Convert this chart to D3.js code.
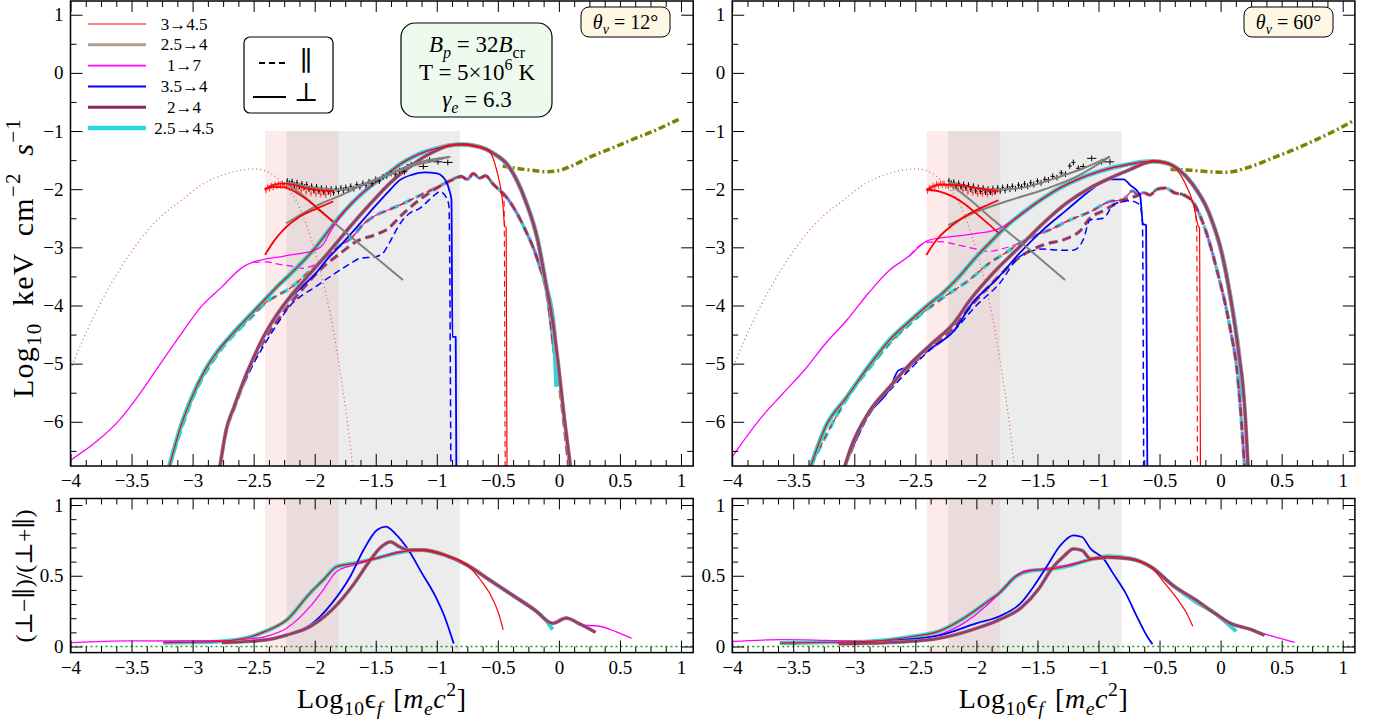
<!DOCTYPE html>
<html>
<head>
<meta charset="utf-8">
<script src="https://cdn.jsdelivr.net/npm/d3@7"></script>
<style>
  body { margin: 0; background: #fff; }
  svg text { font-family: "Liberation Serif", "DejaVu Serif", serif; fill: #000; }
</style>
</head>
<body>
<script>
// ---------------- data (x = log10 eps_f [me c^2]) ----------------
const xTicks = [-4, -3.5, -3, -2.5, -2, -1.5, -1, -0.5, 0, 0.5, 1];
const ySpecTicks = [-6, -5, -4, -3, -2, -1, 0, 1];
const yPolTicks = [0, 0.5, 1];
const energyBands = [[-2.407, -1.805], [-2.231, -0.81]]; // 2-8 keV, 3-79 keV
const legendLabels = ["3\u21924.5", "2.5\u21924", "1\u21927", "3.5\u21924", "2\u21924", "2.5\u21924.5"];
const viewAngles = ["12\u00b0", "60\u00b0"];

// seed photon (dotted) curve, same in both panels
const seedCurve = [[-4.0,-5.1],[-3.9,-4.6],[-3.77,-4.02],[-3.6,-3.39],[-3.43,-2.87],[-3.26,-2.47],[-3.09,-2.19],[-2.93,-1.93],[-2.76,-1.76],[-2.59,-1.67],[-2.49,-1.65],[-2.36,-1.73],[-2.24,-1.95],[-2.15,-2.2],[-2.07,-2.6],[-2.0,-3.05],[-1.92,-3.7],[-1.85,-4.4],[-1.78,-5.3],[-1.72,-6.2],[-1.69,-6.76]];

// ---- theta_v = 12 deg, spectra (log10 keV cm^-2 s^-1) ----
const s12CyanPerp = [[-3.19,-6.76],[-3.1,-6.1],[-3.0,-5.55],[-2.9,-5.12],[-2.8,-4.8],[-2.7,-4.55],[-2.6,-4.32],[-2.5,-4.1],[-2.4,-3.88],[-2.3,-3.66],[-2.2,-3.46],[-2.1,-3.25],[-2.0,-3.02],[-1.9,-2.75],[-1.8,-2.48],[-1.7,-2.25],[-1.6,-2.05],[-1.5,-1.88],[-1.4,-1.73],[-1.3,-1.57],[-1.2,-1.45],[-1.1,-1.36],[-1.0,-1.3],[-0.9,-1.25],[-0.8,-1.23],[-0.7,-1.25],[-0.6,-1.31],[-0.54,-1.38],[-0.41,-1.61],[-0.275,-2.19],[-0.174,-2.87],[-0.107,-3.62],[-0.04,-4.42],[-0.02,-5.4]];
const s12CyanPar = [[-3.19,-6.76],[-3.0,-5.6],[-2.8,-4.85],[-2.6,-4.37],[-2.5,-4.16],[-2.4,-3.95],[-2.3,-3.82],[-2.2,-3.7],[-2.1,-3.52],[-2.0,-3.33],[-1.9,-3.15],[-1.8,-2.98],[-1.7,-2.84],[-1.6,-2.6],[-1.5,-2.45],[-1.4,-2.36],[-1.3,-2.27],[-1.2,-2.17],[-1.1,-2.07],[-1.0,-1.97],[-0.9,-1.86],[-0.8,-1.78],[-0.75,-1.83],[-0.7,-1.73],[-0.65,-1.81],[-0.6,-1.77],[-0.544,-1.9],[-0.41,-2.19],[-0.275,-2.7],[-0.174,-3.22],[-0.09,-3.9],[-0.04,-4.77],[-0.02,-5.1]];
const s12RedPerpTail = [[-0.577,-1.33],[-0.51,-1.67],[-0.46,-2.24],[-0.443,-2.64],[-0.432,-2.66],[-0.425,-6.76]];
const s12RedParTail = [[-0.544,-1.9],[-0.48,-2.05],[-0.45,-2.15],[-0.44,-6.76]];
const s12MagPerpHead = [[-4.0,-6.66],[-3.77,-6.31],[-3.6,-5.97],[-3.43,-5.51],[-3.26,-4.99],[-3.09,-4.48],[-2.93,-4.02],[-2.76,-3.68],[-2.59,-3.34],[-2.5,-3.25],[-2.4,-3.2],[-2.3,-3.17],[-2.2,-3.13],[-2.1,-3.1],[-2.0,-3.05],[-1.93,-2.95],[-1.87,-2.72],[-1.8,-2.5]];
const s12MagParHead = [[-2.5,-3.26],[-2.4,-3.25],[-2.3,-3.29],[-2.2,-3.32],[-2.1,-3.36],[-2.0,-3.3],[-1.9,-3.16]];
const s12PerpTail = [[0.0,-5.1],[0.045,-5.95],[0.094,-6.76]];
const s12ParTail = [[0.0,-5.3],[0.04,-6.0],[0.08,-6.76]];
const s12PurplePerpHead = [[-2.775,-6.76],[-2.725,-6.14],[-2.66,-5.74],[-2.59,-5.34],[-2.51,-4.94],[-2.42,-4.54],[-2.32,-4.19],[-2.22,-3.9],[-2.1,-3.6],[-2.0,-3.36],[-1.9,-3.12],[-1.8,-2.87],[-1.7,-2.62],[-1.6,-2.38],[-1.5,-2.15],[-1.4,-1.93],[-1.3,-1.74],[-1.2,-1.58],[-1.1,-1.44],[-1.0,-1.33]];
const s12PurpleParHead = [[-2.775,-6.76],[-2.725,-6.16],[-2.66,-5.77],[-2.59,-5.38],[-2.51,-4.99],[-2.42,-4.62],[-2.32,-4.3],[-2.22,-4.02],[-2.1,-3.72],[-2.0,-3.48],[-1.9,-3.28],[-1.8,-3.12],[-1.66,-2.9],[-1.5,-2.78],[-1.4,-2.68],[-1.3,-2.47],[-1.2,-2.28],[-1.06,-2.06],[-0.95,-1.92],[-0.85,-1.82]];
const s12BluePerp = [[-2.775,-6.76],[-2.725,-6.14],[-2.66,-5.74],[-2.59,-5.34],[-2.51,-4.94],[-2.42,-4.56],[-2.32,-4.22],[-2.22,-3.93],[-2.1,-3.67],[-2.0,-3.47],[-1.9,-3.21],[-1.8,-2.99],[-1.7,-2.76],[-1.6,-2.52],[-1.5,-2.28],[-1.4,-2.05],[-1.3,-1.84],[-1.2,-1.75],[-1.1,-1.71],[-1.0,-1.73],[-0.95,-1.79],[-0.92,-1.88],[-0.9,-2.0],[-0.88,-2.18],[-0.872,-4.54],[-0.845,-4.54],[-0.84,-6.76]];
const s12BluePar = [[-2.775,-6.76],[-2.725,-6.16],[-2.66,-5.77],[-2.59,-5.4],[-2.5,-5.0],[-2.4,-4.63],[-2.3,-4.3],[-2.2,-4.0],[-2.1,-3.82],[-2.0,-3.69],[-1.9,-3.54],[-1.8,-3.4],[-1.7,-3.27],[-1.63,-3.19],[-1.5,-3.16],[-1.44,-3.1],[-1.39,-2.93],[-1.3,-2.59],[-1.22,-2.41],[-1.14,-2.33],[-1.06,-2.18],[-1.0,-2.07],[-0.975,-2.04],[-0.92,-2.15],[-0.9,-2.3],[-0.885,-6.76]];
const s12Olive = [[-0.46,-1.6],[-0.35,-1.64],[-0.24,-1.67],[-0.1,-1.7],[0.0,-1.68],[0.094,-1.61],[0.262,-1.44],[0.43,-1.3],[0.597,-1.15],[0.765,-1.01],[0.9,-0.88],[1.0,-0.78]];
// fit components
const f12GrayDesc = [[-2.235,-1.9],[-2.1,-2.1],[-1.99,-2.3],[-1.77,-2.7],[-1.524,-3.13],[-1.277,-3.56]];
const f12GrayRise = [[-2.235,-2.59],[-2.1,-2.42],[-1.95,-2.25],[-1.8,-2.12],[-1.578,-1.9],[-1.4,-1.76],[-1.2,-1.6],[-1.0,-1.5],[-0.89,-1.44]];
const f12GrayTotal = [[-2.235,-1.88],[-1.99,-1.98],[-1.8,-2.01],[-1.578,-1.9],[-1.383,-1.73],[-1.165,-1.55],[-0.89,-1.44]];
const f12RedDesc = [[-2.41,-2.0],[-2.33,-1.96],[-2.25,-1.97],[-2.15,-2.06],[-2.05,-2.2],[-1.95,-2.38],[-1.85,-2.56]];
const f12RedRise = [[-2.407,-3.13],[-2.33,-2.88],[-2.257,-2.7],[-2.12,-2.47],[-1.98,-2.33],[-1.848,-2.21]];
const f12RedTotal = [[-2.41,-2.0],[-2.33,-1.92],[-2.25,-1.9],[-2.15,-1.94],[-2.05,-1.99],[-1.95,-2.02],[-1.85,-2.03]];
const d12Black = [[-2.225,-1.86],[-2.205,-1.9],[-2.185,-1.87],[-2.165,-1.93],[-2.145,-1.89],[-2.125,-1.95],[-2.105,-1.91],[-2.085,-1.96],[-2.065,-1.92],[-2.045,-1.99],[-2.025,-1.95],[-2.005,-2.02],[-1.985,-1.96],[-1.965,-2.03],[-1.945,-1.98],[-1.925,-2.05],[-1.905,-1.99],[-1.885,-2.04],[-1.865,-2.0],[-1.845,-2.06],[-1.825,-1.99],[-1.805,-2.04],[-1.785,-1.98],[-1.765,-2.02],[-1.745,-1.97],[-1.725,-2.01],[-1.705,-1.95],[-1.68,-1.99],[-1.655,-1.92],[-1.63,-1.96],[-1.605,-1.9],[-1.58,-1.93],[-1.555,-1.87],[-1.53,-1.9],[-1.5,-1.83],[-1.47,-1.86],[-1.44,-1.79],[-1.41,-1.77],[-1.375,-1.73],[-1.34,-1.74],[-1.305,-1.68],[-1.265,-1.7],[-1.21,-1.58],[-1.11,-1.61],[-1.06,-1.5],[-0.99,-1.53],[-0.91,-1.54]];
const d12Red = [[-2.4,-2.02],[-2.385,-1.97],[-2.37,-1.99],[-2.355,-1.94],[-2.34,-1.97],[-2.325,-1.92],[-2.31,-1.95],[-2.295,-1.91],[-2.28,-1.94],[-2.265,-1.9],[-2.25,-1.93],[-2.23,-1.95],[-2.21,-1.92],[-2.19,-1.97],[-2.17,-1.94],[-2.15,-1.99],[-2.13,-1.96],[-2.11,-2.02],[-2.09,-1.98],[-2.07,-2.05],[-2.05,-2.0],[-2.03,-2.07],[-2.01,-2.02],[-1.99,-2.08],[-1.97,-2.03],[-1.95,-2.09],[-1.93,-2.04],[-1.91,-2.1],[-1.89,-2.05],[-1.87,-2.08]];

// ---- theta_v = 60 deg, spectra ----
const s60CyanPerp = [[-3.356,-6.76],[-3.234,-6.08],[-3.06,-5.57],[-2.885,-5.05],[-2.71,-4.59],[-2.536,-4.25],[-2.362,-3.93],[-2.3,-3.83],[-2.14,-3.5],[-2.0,-3.16],[-1.866,-2.87],[-1.73,-2.59],[-1.59,-2.36],[-1.455,-2.16],[-1.317,-1.98],[-1.18,-1.84],[-1.043,-1.73],[-0.905,-1.64],[-0.77,-1.58],[-0.63,-1.53],[-0.55,-1.52],[-0.444,-1.55],[-0.339,-1.67],[-0.235,-1.9],[-0.095,-2.41],[0.01,-3.1],[0.08,-3.85],[0.149,-4.82],[0.184,-5.6]];
const s60CyanPar = [[-3.356,-6.76],[-3.06,-5.6],[-2.885,-5.1],[-2.71,-4.65],[-2.536,-4.3],[-2.362,-4.0],[-2.277,-3.87],[-2.058,-3.56],[-1.893,-3.27],[-1.75,-3.08],[-1.646,-2.93],[-1.5,-2.78],[-1.4,-2.7],[-1.235,-2.53],[-1.07,-2.39],[-0.905,-2.21],[-0.8,-2.18],[-0.72,-2.03],[-0.68,-2.1],[-0.63,-2.06],[-0.58,-2.1],[-0.52,-2.0],[-0.45,-1.98],[-0.38,-2.06],[-0.3,-2.1],[-0.238,-2.19],[-0.134,-2.64],[-0.03,-3.39],[0.075,-4.36],[0.143,-5.28],[0.196,-6.76]];
const s60RedPerpTail = [[-0.38,-1.62],[-0.305,-1.84],[-0.217,-2.3],[-0.182,-2.64],[-0.172,-2.66],[-0.165,-6.76]];
const s60RedParTail = [[-0.238,-2.19],[-0.205,-2.45],[-0.195,-2.7],[-0.19,-6.76]];
const s60MagPerpHead = [[-4.0,-6.6],[-3.756,-5.91],[-3.583,-5.51],[-3.408,-5.11],[-3.234,-4.65],[-3.06,-4.25],[-2.885,-3.79],[-2.71,-3.39],[-2.55,-3.15],[-2.414,-2.9],[-2.3,-2.84],[-2.222,-2.82],[-2.1,-2.79],[-2.0,-2.76],[-1.84,-2.7],[-1.73,-2.58]];
const s60MagParHead = [[-2.55,-3.15],[-2.414,-2.92],[-2.3,-2.9],[-2.15,-2.96],[-2.0,-3.03],[-1.9,-3.07],[-1.8,-3.03],[-1.7,-2.97]];
const s60PerpTail = [[0.184,-5.4],[0.205,-6.0],[0.225,-6.76]];
const s60PurplePerpHead = [[-3.077,-6.76],[-3.025,-6.43],[-2.885,-5.85],[-2.71,-5.4],[-2.536,-4.99],[-2.362,-4.65],[-2.188,-4.31],[-2.05,-3.9],[-1.866,-3.45],[-1.646,-2.99],[-1.455,-2.59],[-1.262,-2.24],[-1.07,-1.98],[-0.905,-1.81],[-0.74,-1.66],[-0.63,-1.56]];
const s60PurpleParHead = [[-3.077,-6.76],[-2.885,-5.87],[-2.71,-5.42],[-2.536,-5.03],[-2.362,-4.7],[-2.188,-4.38],[-2.05,-4.02],[-1.84,-3.55],[-1.646,-3.17],[-1.455,-2.96],[-1.262,-2.85],[-1.152,-2.72],[-1.07,-2.5],[-0.96,-2.37],[-0.85,-2.24],[-0.74,-2.15],[-0.68,-2.11]];
const s60BluePerp = [[-3.077,-6.76],[-3.025,-6.45],[-2.885,-5.88],[-2.71,-5.43],[-2.64,-5.12],[-2.536,-5.03],[-2.467,-4.86],[-2.33,-4.68],[-2.19,-4.45],[-2.03,-3.95],[-1.84,-3.56],[-1.646,-3.1],[-1.455,-2.7],[-1.262,-2.36],[-1.097,-2.07],[-0.988,-1.9],[-0.905,-1.83],[-0.795,-1.83],[-0.74,-1.93],[-0.66,-2.1],[-0.635,-2.6],[-0.61,-2.62],[-0.6,-6.76]];
const s60BluePar = [[-3.077,-6.76],[-2.885,-5.9],[-2.71,-5.46],[-2.536,-5.08],[-2.4,-4.8],[-2.2,-4.47],[-2.0,-4.0],[-1.81,-3.62],[-1.646,-3.16],[-1.455,-3.03],[-1.3,-3.05],[-1.207,-3.05],[-1.125,-2.87],[-1.07,-2.53],[-0.96,-2.5],[-0.878,-2.27],[-0.795,-2.21],[-0.74,-2.2],[-0.66,-2.27],[-0.64,-2.6],[-0.63,-6.76]];
const s60Olive = [[-0.41,-1.66],[-0.27,-1.67],[-0.1,-1.7],[0.04,-1.71],[0.25,-1.61],[0.42,-1.47],[0.59,-1.33],[0.77,-1.16],[0.94,-0.99],[1.09,-0.82]];
const f60GrayDesc = [[-2.23,-1.9],[-2.1,-2.1],[-1.86,-2.53],[-1.56,-3.05],[-1.274,-3.56]];
const f60GrayRise = [[-2.23,-2.62],[-2.0,-2.39],[-1.725,-2.19],[-1.452,-2.01],[-1.18,-1.785],[-0.906,-1.44]];
const f60GrayTotal = [[-2.23,-1.88],[-2.0,-1.98],[-1.81,-2.01],[-1.59,-1.96],[-1.317,-1.785],[-1.125,-1.64],[-0.906,-1.44]];
const f60RedDesc = [[-2.41,-2.01],[-2.3,-2.04],[-2.2,-2.12],[-2.1,-2.25],[-2.0,-2.42],[-1.9,-2.6],[-1.82,-2.75]];
const f60RedRise = [[-2.41,-3.13],[-2.325,-2.87],[-2.216,-2.65],[-2.08,-2.45],[-1.94,-2.3],[-1.82,-2.19]];
const f60RedTotal = [[-2.41,-2.01],[-2.3,-1.92],[-2.137,-1.93],[-2.0,-1.98],[-1.82,-2.04]];
const d60Black = [[-2.225,-1.86],[-2.205,-1.9],[-2.185,-1.88],[-2.165,-1.94],[-2.145,-1.9],[-2.125,-1.96],[-2.105,-1.92],[-2.085,-1.98],[-2.065,-1.93],[-2.045,-2.0],[-2.025,-1.95],[-2.005,-2.03],[-1.985,-1.97],[-1.965,-2.04],[-1.945,-1.98],[-1.925,-2.05],[-1.905,-2.0],[-1.885,-2.05],[-1.865,-1.99],[-1.845,-2.04],[-1.825,-1.98],[-1.805,-2.03],[-1.785,-1.97],[-1.765,-2.02],[-1.745,-1.96],[-1.725,-2.0],[-1.705,-1.95],[-1.68,-1.99],[-1.655,-1.93],[-1.63,-1.96],[-1.605,-1.91],[-1.58,-1.95],[-1.555,-1.89],[-1.53,-1.92],[-1.5,-1.86],[-1.47,-1.89],[-1.44,-1.83],[-1.41,-1.84],[-1.375,-1.78],[-1.34,-1.8],[-1.305,-1.72],[-1.27,-1.74],[-1.235,-1.6],[-1.206,-1.54],[-1.165,-1.64],[-1.125,-1.61],[-1.056,-1.47],[-0.974,-1.53],[-0.906,-1.53]];
const d60Red = [[-2.4,-2.03],[-2.385,-1.98],[-2.37,-1.99],[-2.355,-1.94],[-2.34,-1.96],[-2.325,-1.91],[-2.31,-1.94],[-2.295,-1.9],[-2.28,-1.93],[-2.265,-1.9],[-2.25,-1.94],[-2.23,-1.95],[-2.21,-1.92],[-2.19,-1.97],[-2.17,-1.94],[-2.15,-1.99],[-2.13,-1.95],[-2.11,-2.02],[-2.09,-1.97],[-2.07,-2.05],[-2.05,-2.0],[-2.03,-2.06],[-2.01,-2.01],[-1.99,-2.08],[-1.97,-2.03],[-1.95,-2.08],[-1.93,-2.03],[-1.91,-2.09],[-1.89,-2.04],[-1.87,-2.07],[-1.85,-2.05]];

// ---- polarisation degree (perp - par)/(perp + par) ----
const p12Magenta = [[-4.0,0.027],[-3.52,0.04],[-3.15,0.039],[-2.78,0.041],[-2.56,0.051],[-2.41,0.069],[-2.23,0.129],[-2.04,0.28],[-1.93,0.4],[-1.82,0.53],[-1.675,0.576],[-1.49,0.623],[-1.306,0.67],[-1.121,0.682],[-0.936,0.647],[-0.752,0.576],[-0.567,0.47],[-0.382,0.364],[-0.198,0.258],[-0.051,0.164],[0.0,0.19],[0.06,0.21],[0.171,0.152],[0.319,0.145],[0.466,0.105],[0.595,0.058]];
const p12Cyan = [[-3.24,0.027],[-3.0,0.03],[-2.78,0.036],[-2.56,0.06],[-2.41,0.105],[-2.23,0.187],[-2.04,0.376],[-1.93,0.47],[-1.82,0.564],[-1.675,0.588],[-1.49,0.625],[-1.306,0.665],[-1.121,0.682],[-0.936,0.647],[-0.752,0.576],[-0.567,0.47],[-0.382,0.364],[-0.198,0.258],[-0.12,0.2],[-0.051,0.12]];
const p12RedTail = [[-0.641,0.47],[-0.567,0.376],[-0.494,0.235],[-0.456,0.117]];
const p12Purple = [[-2.76,0.027],[-2.41,0.046],[-2.23,0.081],[-2.04,0.14],[-1.86,0.258],[-1.675,0.447],[-1.564,0.588],[-1.454,0.705],[-1.38,0.74],[-1.306,0.705],[-1.232,0.682],[-1.121,0.682],[-0.936,0.647],[-0.752,0.576],[-0.567,0.47],[-0.382,0.364],[-0.198,0.258],[-0.051,0.164],[0.06,0.2],[0.171,0.16],[0.3,0.1]];
const p12Blue = [[-2.76,0.027],[-2.41,0.046],[-2.04,0.15],[-1.86,0.305],[-1.71,0.493],[-1.6,0.682],[-1.49,0.823],[-1.417,0.847],[-1.343,0.8],[-1.232,0.682],[-1.121,0.517],[-1.01,0.352],[-0.936,0.21],[-0.862,0.022]];
const p60Magenta = [[-4.0,0.036],[-3.59,0.048],[-3.235,0.043],[-2.88,0.036],[-2.52,0.052],[-2.31,0.083],[-2.1,0.167],[-1.92,0.286],[-1.81,0.38],[-1.705,0.476],[-1.6,0.536],[-1.456,0.548],[-1.278,0.571],[-1.1,0.607],[-0.922,0.631],[-0.744,0.619],[-0.566,0.56],[-0.388,0.43],[-0.21,0.333],[-0.032,0.226],[0.075,0.167],[0.253,0.119],[0.43,0.071],[0.608,0.029]];
const p60Cyan = [[-3.61,0.024],[-3.2,0.03],[-2.88,0.036],[-2.52,0.071],[-2.31,0.107],[-2.1,0.202],[-1.92,0.31],[-1.81,0.38],[-1.67,0.5],[-1.56,0.536],[-1.384,0.548],[-1.242,0.571],[-1.1,0.607],[-0.922,0.638],[-0.744,0.624],[-0.566,0.56],[-0.388,0.43],[-0.21,0.32],[-0.032,0.226],[0.128,0.107]];
const p60RedTail = [[-0.46,0.45],[-0.352,0.333],[-0.28,0.238],[-0.228,0.143]];
const p60Purple = [[-3.128,0.019],[-2.7,0.029],[-2.345,0.052],[-1.99,0.131],[-1.81,0.19],[-1.633,0.274],[-1.491,0.405],[-1.384,0.548],[-1.278,0.643],[-1.206,0.69],[-1.135,0.679],[-1.064,0.619],[-0.993,0.624],[-0.922,0.63],[-0.744,0.619],[-0.566,0.56],[-0.388,0.43],[-0.21,0.333],[-0.032,0.226],[0.075,0.167],[0.253,0.119],[0.36,0.08]];
const p60Blue = [[-3.128,0.019],[-2.345,0.071],[-1.99,0.167],[-1.81,0.214],[-1.633,0.31],[-1.527,0.43],[-1.42,0.571],[-1.313,0.714],[-1.206,0.786],[-1.135,0.774],[-1.064,0.69],[-0.957,0.619],[-0.886,0.524],[-0.78,0.381],[-0.673,0.19],[-0.601,0.071],[-0.558,0.017]];

// ---------------- build the curves that share segments ----------------
const between = (arr, lo, hi) => arr.filter(d => d[0] >= lo && d[0] <= hi);
const spectra = {
  "12": {
    cyanPerp: s12CyanPerp, cyanPar: s12CyanPar,
    redPerp: between(s12CyanPerp, -9, -0.6).concat(s12RedPerpTail),
    redPar: between(s12CyanPar, -9, -0.6).concat(s12RedParTail),
    magPerp: s12MagPerpHead.concat(between(s12CyanPerp, -1.75, -0.04), s12PerpTail),
    magPar: s12MagParHead.concat(between(s12CyanPar, -1.85, -0.04), s12ParTail),
    purplePerp: s12PurplePerpHead.concat(between(s12CyanPerp, -0.95, -0.04), s12PerpTail),
    purplePar: s12PurpleParHead.concat(between(s12CyanPar, -0.82, -0.04), s12ParTail),
    bluePerp: s12BluePerp, bluePar: s12BluePar, olive: s12Olive,
    grayDesc: f12GrayDesc, grayRise: f12GrayRise, grayTotal: f12GrayTotal,
    redDesc: f12RedDesc, redRise: f12RedRise, redTotal: f12RedTotal,
    dataBlack: d12Black, dataRed: d12Red,
    pCyan: p12Cyan, pRed: between(p12Cyan, -9, -0.75).concat(p12RedTail),
    pMag: p12Magenta, pPurple: p12Purple, pBlue: p12Blue
  },
  "60": {
    cyanPerp: s60CyanPerp, cyanPar: s60CyanPar,
    redPerp: between(s60CyanPerp, -9, -0.444).concat(s60RedPerpTail),
    redPar: between(s60CyanPar, -9, -0.3).concat(s60RedParTail),
    magPerp: s60MagPerpHead.concat(between(s60CyanPerp, -1.6, 0.149), s60PerpTail),
    magPar: s60MagParHead.concat(between(s60CyanPar, -1.65, 1)),
    purplePerp: s60PurplePerpHead.concat(between(s60CyanPerp, -0.56, 0.149), s60PerpTail),
    purplePar: s60PurpleParHead.concat(between(s60CyanPar, -0.65, 1)),
    bluePerp: s60BluePerp, bluePar: s60BluePar, olive: s60Olive,
    grayDesc: f60GrayDesc, grayRise: f60GrayRise, grayTotal: f60GrayTotal,
    redDesc: f60RedDesc, redRise: f60RedRise, redTotal: f60RedTotal,
    dataBlack: d60Black, dataRed: d60Red,
    pCyan: p60Cyan, pRed: between(p60Cyan, -9, -0.566).concat(p60RedTail),
    pMag: p60Magenta, pPurple: p60Purple, pBlue: p60Blue
  }
};

// ---------------- drawing ----------------
const W = 1378, H = 723;
const C = { red: "#ff0000", tan: "#b3a08c", mag: "#ff00ff", blue: "#0000ff", purple: "#8e2367", cyan: "#2cd4d4" };

const svg = d3.select("body").append("svg")
  .attr("width", W).attr("height", H)
  .attr("viewBox", [0, 0, W, H]);

const xDomain = [-4, 1.1];
const xScales = {
  "12": d3.scaleLinear(xDomain, [70.5, 693.2]),
  "60": d3.scaleLinear(xDomain, [732.2, 1354.9])
};
const ySpec = d3.scaleLinear([-6.76, 1.236], [466, 1]);
const yPol = d3.scaleLinear([-0.043, 1.046], [652.6, 498.5]);
const fmt = d3.format("~g");

function addLine(g, x, y, data, st) {
  g.append("path")
    .attr("d", d3.line().x(d => x(d[0])).y(d => y(d[1])).curve(d3.curveMonotoneX)(data))
    .attr("fill", "none")
    .attr("stroke", st.c)
    .attr("stroke-width", st.w)
    .attr("stroke-dasharray", st.dash || null)
    .attr("opacity", st.o || 1)
    .attr("stroke-linejoin", "round");
}

// rich text with sub/superscripts
function rich(sel, parts, size) {
  let shift = 0;
  parts.forEach(p => {
    const target = p.sub ? 0.25 * size : p.sup ? -0.42 * size : 0;
    const ts = sel.append("tspan").text(p.t).attr("dy", target - shift);
    shift = target;
    if (p.sub || p.sup) ts.attr("font-size", size * 0.7);
    if (p.it) ts.attr("font-style", "italic");
  });
  return sel;
}

function axes(g, x, y, yMajor, yMinor, xMinor) {
  const [x0, x1] = x.range();
  const [yb, yt] = y.range();
  const style = a => a.call(s => s.select(".domain").remove())
    .attr("font-family", "Liberation Serif, DejaVu Serif, serif").attr("font-size", 19)
    .call(s => s.selectAll("line").attr("stroke", "#000"));
  style(g.append("g").attr("transform", `translate(0,${yb})`)
    .call(d3.axisBottom(x).tickValues(xMinor).tickSize(-6).tickFormat("")));
  style(g.append("g").attr("transform", `translate(0,${yb})`)
    .call(d3.axisBottom(x).tickValues(xTicks).tickSize(-12).tickPadding(8).tickFormat(fmt)));
  style(g.append("g").attr("transform", `translate(0,${yt})`)
    .call(d3.axisTop(x).tickValues(xMinor).tickSize(-6).tickFormat("")));
  style(g.append("g").attr("transform", `translate(0,${yt})`)
    .call(d3.axisTop(x).tickValues(xTicks).tickSize(-11).tickFormat("")));
  style(g.append("g").attr("transform", `translate(${x0},0)`)
    .call(d3.axisLeft(y).tickValues(yMinor).tickSize(-6).tickFormat("")));
  style(g.append("g").attr("transform", `translate(${x0},0)`)
    .call(d3.axisLeft(y).tickValues(yMajor).tickSize(-12).tickPadding(7).tickFormat(fmt)));
  style(g.append("g").attr("transform", `translate(${x1},0)`)
    .call(d3.axisRight(y).tickValues(yMinor).tickSize(-6).tickFormat("")));
  style(g.append("g").attr("transform", `translate(${x1},0)`)
    .call(d3.axisRight(y).tickValues(yMajor).tickSize(-12).tickFormat("")));
  g.append("rect").attr("x", x0).attr("y", yt).attr("width", x1 - x0).attr("height", yb - yt)
    .attr("fill", "none").attr("stroke", "#000").attr("stroke-width", 1.5);
}

function bands(g, x, yTop, yBottom) {
  g.append("rect").attr("x", x(energyBands[0][0])).attr("width", x(energyBands[0][1]) - x(energyBands[0][0]))
    .attr("y", yTop).attr("height", yBottom - yTop).attr("fill", "#f08080").attr("opacity", 0.16);
  g.append("rect").attr("x", x(energyBands[1][0])).attr("width", x(energyBands[1][1]) - x(energyBands[1][0]))
    .attr("y", yTop).attr("height", yBottom - yTop).attr("fill", "#a0a0a0").attr("opacity", 0.2);
}

function crosses(g, x, y, pts, color) {
  pts.forEach((d, i) => {
    const prev = pts[Math.max(i - 1, 0)][0], next = pts[Math.min(i + 1, pts.length - 1)][0];
    const dx = (next - prev) / (i === 0 || i === pts.length - 1 ? 2 : 4);
    g.append("line").attr("x1", x(d[0] - dx)).attr("x2", x(d[0] + dx)).attr("y1", y(d[1])).attr("y2", y(d[1]))
      .attr("stroke", color).attr("stroke-width", 1);
    g.append("line").attr("x1", x(d[0])).attr("x2", x(d[0])).attr("y1", y(d[1] - 0.05)).attr("y2", y(d[1] + 0.05))
      .attr("stroke", color).attr("stroke-width", 1);
  });
}

const xMinor = d3.range(-4, 1.1001, 0.125).filter(v => Math.abs(v * 2 - Math.round(v * 2)) > 1e-6);
const ySpecMinor = d3.range(-6.5, 1.1, 1);
const yPolMinor = d3.range(0, 1.01, 0.1).filter(v => Math.abs(v * 2 - Math.round(v * 2)) > 1e-6);

["12", "60"].forEach((key, k) => {
  const x = xScales[key];
  const S = spectra[key];
  const [x0, x1] = x.range();

  // ---------- spectrum panel ----------
  const clipTop = `clipTop${key}`;
  svg.append("clipPath").attr("id", clipTop).append("rect")
    .attr("x", x0).attr("y", 1).attr("width", x1 - x0).attr("height", 465);
  const gt = svg.append("g").attr("clip-path", `url(#${clipTop})`);
  bands(gt, x, ySpec(-1), 466);

  addLine(gt, x, ySpec, seedCurve, { c: "#d06060", w: 1.2, dash: "1,3" });
  addLine(gt, x, ySpec, S.olive, { c: "#808000", w: 3.5, dash: "7,3,2,3" });

  // parallel (dashed)
  addLine(gt, x, ySpec, S.cyanPar, { c: C.cyan, w: 3.5, dash: "9,5" });
  addLine(gt, x, ySpec, S.magPar, { c: C.mag, w: 1.2, dash: "7,4" });
  addLine(gt, x, ySpec, S.purplePar, { c: C.tan, w: 3.5, dash: "9,5" });
  addLine(gt, x, ySpec, S.purplePar, { c: C.purple, w: 2.6, dash: "9,5", o: 0.85 });
  addLine(gt, x, ySpec, S.bluePar, { c: C.blue, w: 1.5, dash: "7,4" });
  addLine(gt, x, ySpec, S.redPar, { c: C.red, w: 1.1, dash: "6,4" });

  // perpendicular (solid)
  addLine(gt, x, ySpec, S.cyanPerp, { c: C.cyan, w: 4.5 });
  addLine(gt, x, ySpec, S.magPerp, { c: C.mag, w: 1.3 });
  addLine(gt, x, ySpec, S.bluePerp, { c: C.blue, w: 1.8 });
  addLine(gt, x, ySpec, S.purplePerp, { c: C.tan, w: 4 });
  addLine(gt, x, ySpec, S.purplePerp, { c: C.purple, w: 2.8, o: 0.8 });
  addLine(gt, x, ySpec, S.redPerp, { c: C.red, w: 1.2 });

  // fitted data and components
  crosses(gt, x, ySpec, S.dataRed, "#ff3030");
  crosses(gt, x, ySpec, S.dataBlack, "#000");
  [S.grayDesc, S.grayRise, S.grayTotal].forEach(d => addLine(gt, x, ySpec, d, { c: "#808080", w: 2 }));
  [S.redDesc, S.redRise, S.redTotal].forEach(d => addLine(gt, x, ySpec, d, { c: C.red, w: 1.8 }));

  axes(svg.append("g"), x, ySpec, ySpecTicks, ySpecMinor, xMinor);

  // theta box
  const bx = k === 0 ? 581 : 1244;
  svg.append("rect").attr("x", bx).attr("y", 7).attr("width", 89).attr("height", 30).attr("rx", 8)
    .attr("fill", "#fdf7e4").attr("stroke", "#000").attr("stroke-width", 1);
  rich(svg.append("text").attr("x", bx + 44.5).attr("y", 29).attr("text-anchor", "middle").attr("font-size", 20),
    [{ t: "\u03b8", it: true }, { t: "v", sub: true, it: true }, { t: " = " + viewAngles[k] }], 20);

  // ---------- polarisation panel ----------
  const clipBot = `clipBot${key}`;
  svg.append("clipPath").attr("id", clipBot).append("rect")
    .attr("x", x0).attr("y", 498.5).attr("width", x1 - x0).attr("height", 154.1);
  const gb = svg.append("g").attr("clip-path", `url(#${clipBot})`);
  bands(gb, x, 498.5, 652.6);
  gb.append("line").attr("x1", x0).attr("x2", x1).attr("y1", yPol(0)).attr("y2", yPol(0))
    .attr("stroke", "#1a9a1a").attr("stroke-width", 1.6).attr("stroke-dasharray", "2,3");
  addLine(gb, x, yPol, S.pCyan, { c: C.cyan, w: 4 });
  addLine(gb, x, yPol, S.pMag, { c: C.mag, w: 1.3 });
  addLine(gb, x, yPol, S.pBlue, { c: C.blue, w: 1.8 });
  addLine(gb, x, yPol, S.pPurple, { c: C.tan, w: 3.8 });
  addLine(gb, x, yPol, S.pPurple, { c: C.purple, w: 2.8, o: 0.8 });
  addLine(gb, x, yPol, S.pRed, { c: C.red, w: 1.2 });

  axes(svg.append("g"), x, yPol, yPolTicks, yPolMinor, xMinor);

  // x-axis title
  rich(svg.append("text").attr("x", (x0 + x1) / 2).attr("y", 708).attr("text-anchor", "middle")
      .attr("font-size", 28).attr("letter-spacing", 0.6).attr("word-spacing", 3),
    [{ t: "Log" }, { t: "10", sub: true }, { t: "\u03f5" }, { t: "f", sub: true, it: true }, { t: " [" },
     { t: "m", it: true }, { t: "e", sub: true, it: true }, { t: "c", it: true }, { t: "2", sup: true }, { t: "]" }], 28);
});

// y-axis titles
rich(svg.append("text").attr("transform", "translate(33,258) rotate(-90)").attr("text-anchor", "middle")
  .attr("font-size", 30).attr("letter-spacing", 1.2).attr("word-spacing", 8),
  [{ t: "Log" }, { t: "10", sub: true }, { t: " keV cm" }, { t: "\u22122", sup: true }, { t: " " },
   { t: "s", it: true }, { t: "\u22121", sup: true }], 30);
svg.append("text").attr("transform", "translate(32,576) rotate(-90)").attr("text-anchor", "middle")
  .attr("font-size", 24).attr("font-family", "DejaVu Serif, serif")
  .text("(\u22a5\u2212\u2225)/(\u22a5+\u2225)");

// colour legend
const legendColors = [C.red, C.tan, C.mag, C.blue, C.purple, C.cyan];
const legendWidths = [1.2, 3, 1.6, 2, 3, 4.5];
legendLabels.forEach((lab, i) => {
  const yy = 24 + i * 20.8;
  svg.append("line").attr("x1", 88).attr("x2", 146).attr("y1", yy).attr("y2", yy)
    .attr("stroke", legendColors[i]).attr("stroke-width", legendWidths[i]);
  svg.append("text").attr("x", 184).attr("y", yy + 5.5).attr("text-anchor", "middle")
    .attr("font-size", 17).text(lab);
});

// line-style legend
svg.append("rect").attr("x", 244).attr("y", 37).attr("width", 89).attr("height", 76).attr("rx", 6)
  .attr("fill", "#fff").attr("stroke", "#000").attr("stroke-width", 1.2);
svg.append("line").attr("x1", 259).attr("x2", 286).attr("y1", 63).attr("y2", 63)
  .attr("stroke", "#000").attr("stroke-width", 1.8).attr("stroke-dasharray", "6,4");
svg.append("line").attr("x1", 253).attr("x2", 286).attr("y1", 97).attr("y2", 97)
  .attr("stroke", "#000").attr("stroke-width", 1.8);
svg.append("text").attr("x", 306).attr("y", 70).attr("text-anchor", "middle").attr("font-size", 27)
  .attr("font-family", "DejaVu Serif, serif").text("\u2225");
svg.append("text").attr("x", 306).attr("y", 101).attr("text-anchor", "middle").attr("font-size", 26)
  .attr("font-family", "DejaVu Serif, serif").text("\u22a5");

// parameter box
svg.append("rect").attr("x", 401).attr("y", 23).attr("width", 151).attr("height", 94).attr("rx", 14)
  .attr("fill", "#effaef").attr("stroke", "#000").attr("stroke-width", 1.2);
rich(svg.append("text").attr("x", 477).attr("y", 52).attr("text-anchor", "middle").attr("font-size", 23),
  [{ t: "B", it: true }, { t: "p", sub: true, it: true }, { t: " = 32" }, { t: "B", it: true }, { t: "cr", sub: true }], 23);
rich(svg.append("text").attr("x", 477).attr("y", 80).attr("text-anchor", "middle").attr("font-size", 23),
  [{ t: "T = 5\u00d710" }, { t: "6", sup: true }, { t: " K" }], 23);
rich(svg.append("text").attr("x", 477).attr("y", 107).attr("text-anchor", "middle").attr("font-size", 23),
  [{ t: "\u03b3", it: true }, { t: "e", sub: true, it: true }, { t: " = 6.3" }], 23);
</script>
</body>
</html>
